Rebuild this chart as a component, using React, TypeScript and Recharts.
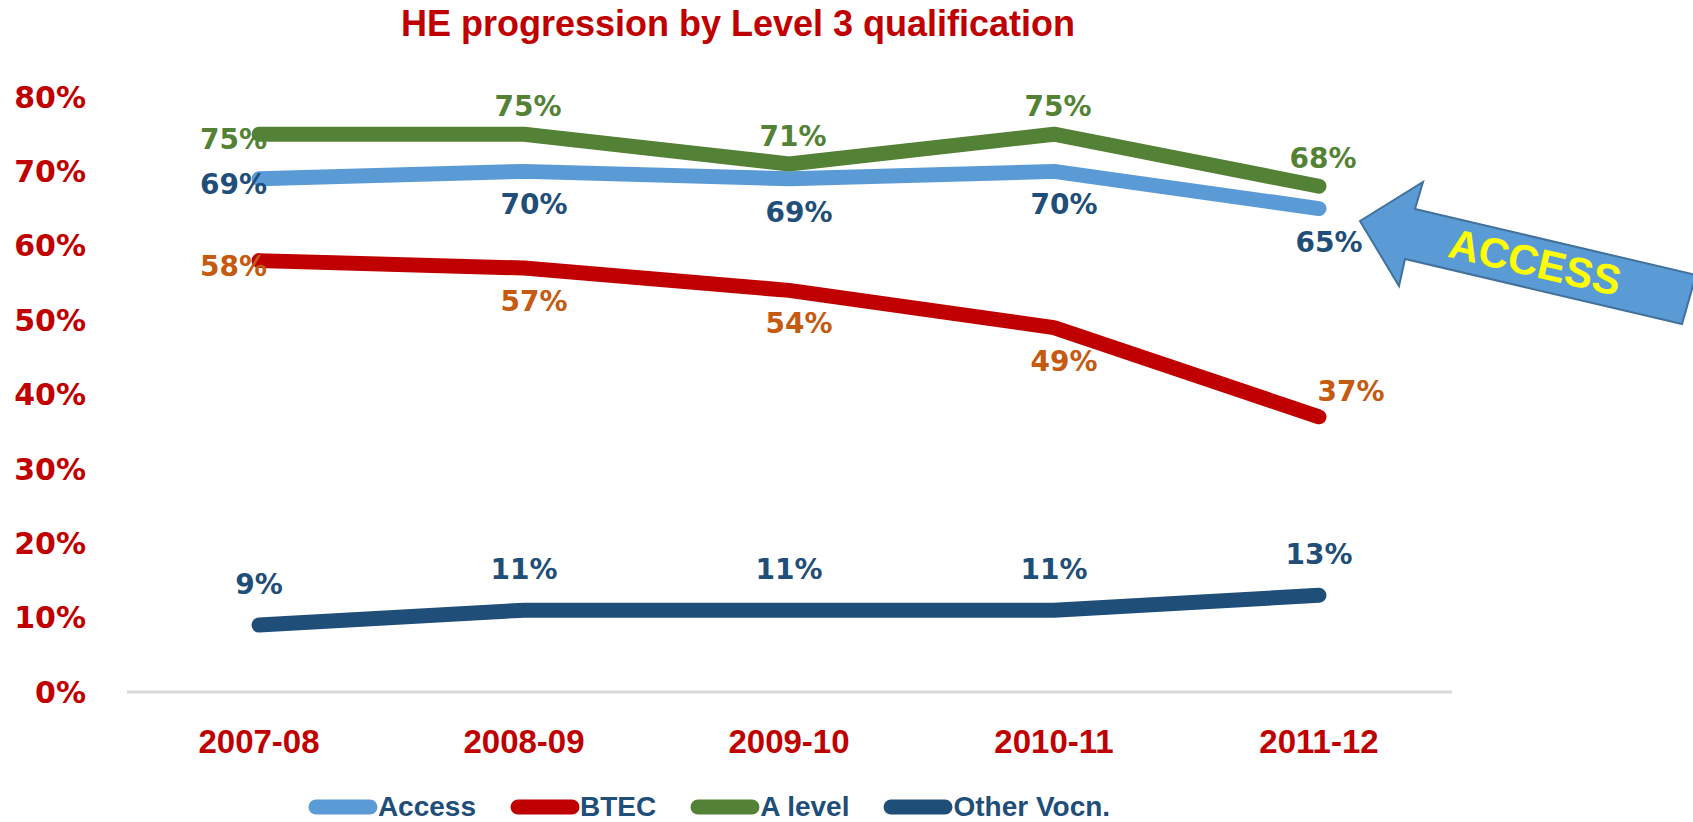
import React from "react";
import { LineChart, Line, XAxis, YAxis, Legend, LabelList } from "recharts";

const years = ["2007-08", "2008-09", "2009-10", "2010-11", "2011-12"];
const access = [69, 70, 69, 70, 65];
const btec = [58, 57, 54, 49, 37];
const aLevel = [75, 75, 71, 75, 68];
const otherVocn = [9, 11, 11, 11, 13];
const yTicks = [0, 10, 20, 30, 40, 50, 60, 70, 80];

const data = years.map((year, i) => ({
  year,
  access: access[i],
  btec: btec[i],
  aLevel: aLevel[i],
  otherVocn: otherVocn[i],
}));

const RED = "#C00000";
const NAVY = "#1F4E79";
const LABEL_FONT = "'DejaVu Sans', Verdana, sans-serif";
const CAT_FONT = "'Liberation Sans', Arial, sans-serif";

type Placement = "above" | "below" | "aboveHigh";

const series = [
  { key: "access", name: "Access", color: "#5B9BD5", labelColor: NAVY, place: "below" as Placement, firstLeft: true },
  { key: "btec", name: "BTEC", color: RED, labelColor: "#C55A11", place: "below" as Placement, firstLeft: true },
  { key: "aLevel", name: "A level", color: "#538135", labelColor: "#548235", place: "above" as Placement, firstLeft: true },
  { key: "otherVocn", name: "Other Vocn.", color: NAVY, labelColor: NAVY, place: "aboveHigh" as Placement, firstLeft: false },
];

// labels sit below / above the line; the first point's label hangs to the left
function makeLabel(color: string, place: Placement, firstLeft: boolean, isBtec: boolean) {
  return (props: any) => {
    const { x, y, value, index } = props;
    let tx = x;
    let ty = y;
    let anchor: "start" | "middle" | "end" = "middle";
    if (index === 0 && firstLeft) {
      tx = x + 8;
      ty = y + 5;
      anchor = "end";
    } else if (isBtec && index === years.length - 1) {
      tx = x + 32;
      ty = y - 26;
    } else if (place === "below") {
      tx = x + 10;
      ty = y + 33;
    } else if (place === "above") {
      tx = x + 4;
      ty = y - 28;
    } else {
      ty = y - 41;
    }
    return (
      <text
        x={tx}
        y={ty}
        dy="0.36em"
        textAnchor={anchor}
        fill={color}
        fontSize={28}
        fontWeight="bold"
        fontFamily={LABEL_FONT}
      >
        {value}%
      </text>
    );
  };
}

function LegendRow() {
  return (
    <div
      style={{
        height: 50,
        display: "flex",
        justifyContent: "center",
        alignItems: "flex-end",
        fontFamily: CAT_FONT,
        fontWeight: "bold",
        fontSize: 28,
        color: NAVY,
      }}
    >
      {series.map((s) => (
        <div key={s.key} style={{ display: "flex", alignItems: "center", marginRight: 34, height: 30 }}>
          <svg width={70} height={16} style={{ display: "block" }}>
            <line x1={8} y1={8} x2={62} y2={8} stroke={s.color} strokeWidth={15} strokeLinecap="round" />
          </svg>
          <span style={{ lineHeight: "30px" }}>{s.name}</span>
        </div>
      ))}
    </div>
  );
}

export default function App() {
  return (
    <div style={{ position: "absolute", left: 0, top: 0, width: 1693, height: 822, background: "#fff" }}>
      <LineChart width={1693} height={822} data={data} margin={{ top: 97, right: 241, left: 0, bottom: 0 }}>
        <XAxis
          dataKey="year"
          height={80}
          padding={{ left: 132, right: 133 }}
          axisLine={{ stroke: "#D9D9D9", strokeWidth: 3 }}
          tickLine={false}
          tickSize={0}
          tickMargin={38}
          tick={{ fill: RED, fontSize: 33, fontWeight: "bold", fontFamily: CAT_FONT }}
        />
        <YAxis
          type="number"
          domain={[0, 80]}
          ticks={yTicks}
          width={127}
          axisLine={false}
          tickLine={false}
          tickSize={0}
          tickMargin={41}
          tickFormatter={(v: number) => `${v}%`}
          tick={{ fill: RED, fontSize: 30, fontWeight: "bold", fontFamily: LABEL_FONT }}
        />
        <Legend verticalAlign="bottom" height={50} content={() => <LegendRow />} />
        {series.map((s) => (
          <Line
            key={s.key}
            dataKey={s.key}
            name={s.name}
            type="linear"
            stroke={s.color}
            strokeWidth={15}
            strokeLinecap="round"
            strokeLinejoin="round"
            dot={false}
            activeDot={false}
            isAnimationActive={false}
          >
            <LabelList dataKey={s.key} content={makeLabel(s.labelColor, s.place, s.firstLeft, s.key === "btec")} />
          </Line>
        ))}
      </LineChart>
      <svg
        width={1693}
        height={822}
        style={{ position: "absolute", left: 0, top: 0, pointerEvents: "none" }}
      >
        <text
          x={738}
          y={36}
          textAnchor="middle"
          fill={RED}
          fontSize={36}
          fontWeight="bold"
          fontFamily={CAT_FONT}
        >
          HE progression by Level 3 qualification
        </text>
        <polygon
          points="1360,221 1423,182 1415,209 1696,275 1682,324 1405,259 1399,286"
          fill="#5B9BD5"
          stroke="#41719C"
          strokeWidth={2}
        />
        <text
          x={1535}
          y={262}
          dy="0.35em"
          textAnchor="middle"
          fill="#FFFF00"
          fontSize={42}
          fontWeight="bold"
          fontFamily={CAT_FONT}
          transform="rotate(13 1535 262)"
        >
          ACCESS
        </text>
      </svg>
    </div>
  );
}
